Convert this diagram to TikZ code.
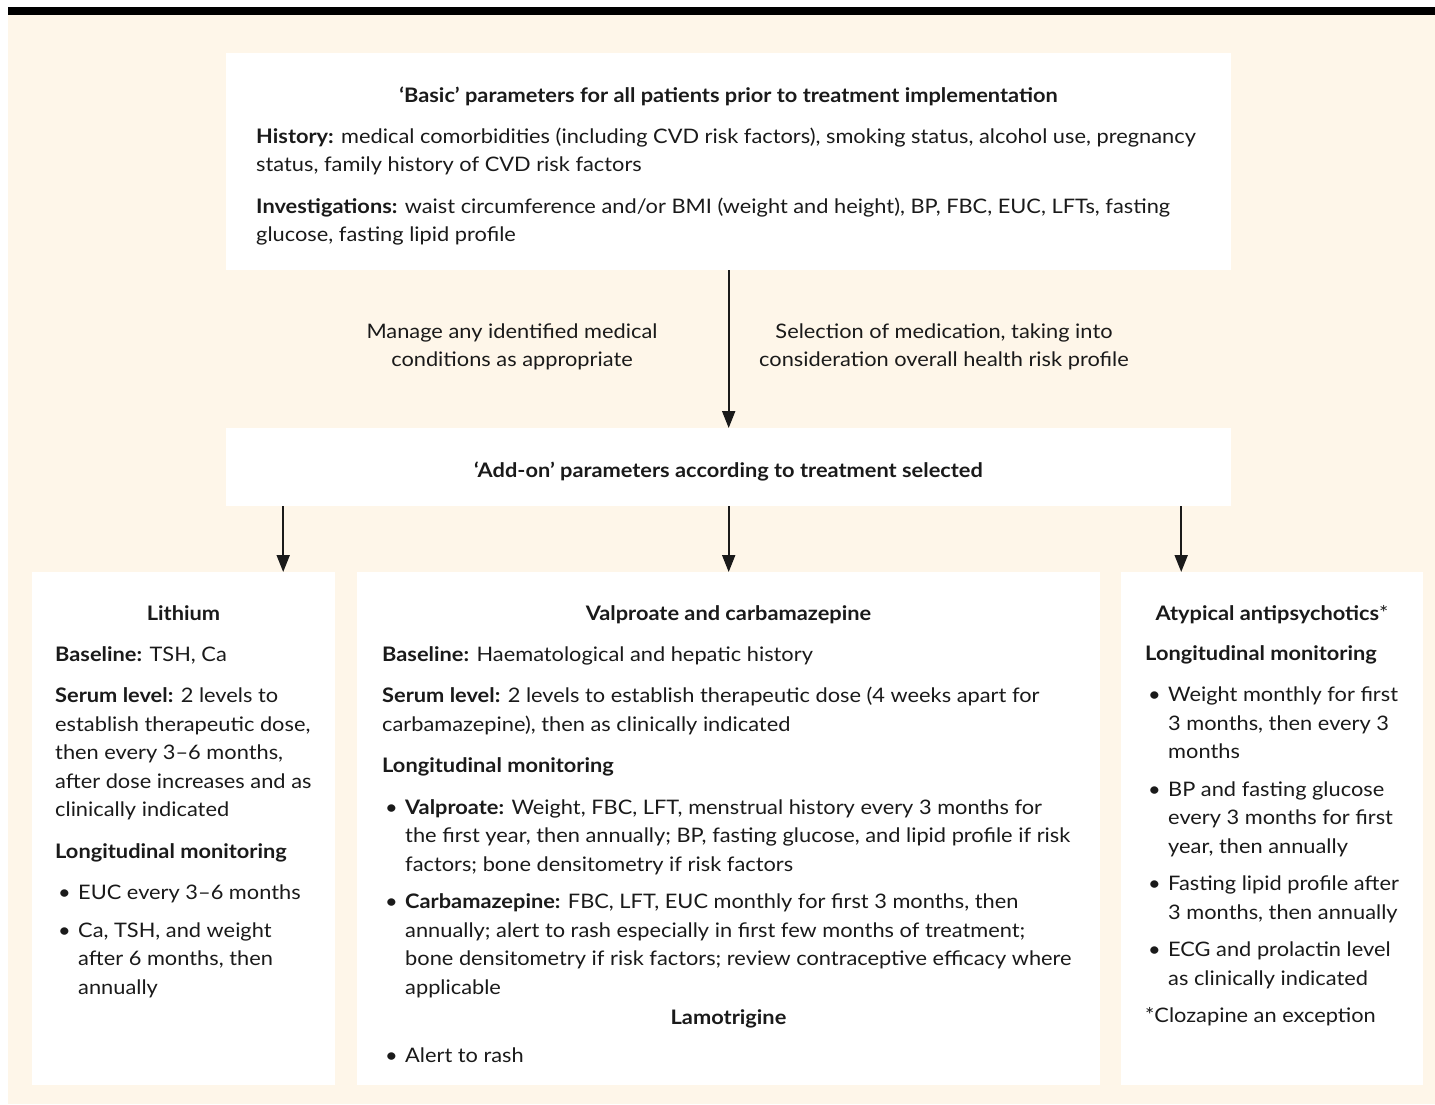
\documentclass[tikz,border=0pt]{standalone}
\usepackage{fontspec}
\setmainfont{Lato}[FakeStretch=1.09]
\usetikzlibrary{arrows.meta,positioning,calc}
\definecolor{cream}{HTML}{FEF6E9}
\definecolor{ink}{HTML}{1A1A1A}
\newcommand\bodyfont{\fontsize{20}{28.5}\selectfont}
\newcommand\pgap{\par\vspace{13pt}}
\newcommand\bgap{\par\vspace{9pt}}
\newcommand\bitem{\hangindent=23pt\hangafter=1\noindent\makebox[23pt][l]{\hspace{3pt}\textbullet}}
\newcommand\boxtext[2]{\begin{minipage}[t]{#1}\raggedright\bodyfont\setlength\parindent{0pt}#2\end{minipage}}
\tikzset{
  panel/.style={
    fill=white,
    draw=none,
    anchor=north west,
    inner sep=0pt
  },
  head/.style={
    font=\bodyfont\bfseries,
    anchor=base,
    inner sep=0pt,
    text=ink
  },
  body/.style={
    anchor=base west,
    inner sep=0pt,
    text=ink
  },
  midnote/.style={
    font=\bodyfont,
    align=center,
    inner sep=0pt,
    text=ink
  },
  arrow/.style={-{Triangle[length=17pt,width=13pt]}, line width=2pt, draw=ink}
}
\begin{document}
\begin{tikzpicture}[x=1pt,y=-1pt]
\useasboundingbox (0,0) rectangle (1435,1104);

% --- Background and top rule
\fill[cream] (8,15) rectangle (1435,1104);
\fill[black] (8,7) rectangle (1435,15);

% --- Panels
\node[panel, minimum width=1005pt, minimum height=217pt] (basic) at (226,53) {};
\node[panel, minimum width=1005pt, minimum height=78pt] (addon) at (226,428) {};
\node[panel, minimum width=303pt, minimum height=513pt] (lith) at (32,572) {};
\node[panel, minimum width=743pt, minimum height=513pt] (valp) at (357,572) {};
\node[panel, minimum width=302pt, minimum height=513pt] (atyp) at (1121,572) {};

% --- Basic parameters
\node[head] (basichead) at (728.5,102) {‘Basic’ parameters for all patients prior to treatment implementation};
\node[body] (basicbody) at (256,143) {\boxtext{960pt}{%
\textbf{History:} medical comorbidities (including CVD risk factors), smoking status, alcohol use, pregnancy\newline
status, family history of CVD risk factors\pgap
\textbf{Investigations:} waist circumference and/or BMI (weight and height), BP, FBC, EUC, LFTs, fasting\newline
glucose, fasting lipid profile}};

% --- Notes beside the main arrow
\node[midnote] (manage) at (512,347) {Manage any identified medical\\conditions as appropriate};
\node[midnote] (select) at (944,347) {Selection of medication, taking into\\consideration overall health risk profile};

% --- Add-on parameters
\node[head] (addonhead) at (728.5,477) {‘Add-on’ parameters according to treatment selected};

% --- Lithium
\node[head] (lithhead) at (183.5,620) {Lithium};
\node[body] (lithbody) at (55,661) {\boxtext{275pt}{%
\textbf{Baseline:} TSH, Ca\pgap
\textbf{Serum level:} 2 levels to\newline
establish therapeutic dose,\newline
then every 3–6 months,\newline
after dose increases and as\newline
clinically indicated\pgap
\textbf{Longitudinal monitoring}\pgap
\bitem EUC every 3–6 months\bgap
\bitem Ca, TSH, and weight\newline
after 6 months, then\newline
annually}};

% --- Valproate and carbamazepine
\node[head] (valphead) at (728.5,620) {Valproate and carbamazepine};
\node[body] (valpbody) at (382,661) {\boxtext{710pt}{%
\textbf{Baseline:} Haematological and hepatic history\pgap
\textbf{Serum level:} 2 levels to establish therapeutic dose (4 weeks apart for\newline
carbamazepine), then as clinically indicated\pgap
\textbf{Longitudinal monitoring}\pgap
\bitem\textbf{Valproate:} Weight, FBC, LFT, menstrual history every 3 months for\newline
the first year, then annually; BP, fasting glucose, and lipid profile if risk\newline
factors; bone densitometry if risk factors\bgap
\bitem\textbf{Carbamazepine:} FBC, LFT, EUC monthly for first 3 months, then\newline
annually; alert to rash especially in first few months of treatment;\newline
bone densitometry if risk factors; review contraceptive efficacy where\newline
applicable}};
\node[head] (lamohead) at (728.5,1024) {Lamotrigine};
\node[body] (lamobody) at (382,1062) {\boxtext{300pt}{\bitem Alert to rash}};

% --- Atypical antipsychotics
\node[head] (atyphead) at (1272,620) {Atypical antipsychotics{\mdseries*}};
\node[body] (atypbody) at (1145,660) {\boxtext{280pt}{%
\textbf{Longitudinal monitoring}\pgap
\bitem Weight monthly for first\newline
3 months, then every 3\newline
months\bgap
\bitem BP and fasting glucose\newline
every 3 months for first\newline
year, then annually\bgap
\bitem Fasting lipid profile after\newline
3 months, then annually\bgap
\bitem ECG and prolactin level\newline
as clinically indicated\bgap
*Clozapine an exception}};

% --- Arrows
\draw[arrow] (basic) -- (addon);
\draw[arrow] ([xshift=-445.5pt]addon.south) -- ([xshift=-445.5pt]addon.south |- lith.north);
\draw[arrow] (addon) -- (valp);
\draw[arrow] ([xshift=452.5pt]addon.south) -- ([xshift=452.5pt]addon.south |- atyp.north);

\end{tikzpicture}
\end{document}
